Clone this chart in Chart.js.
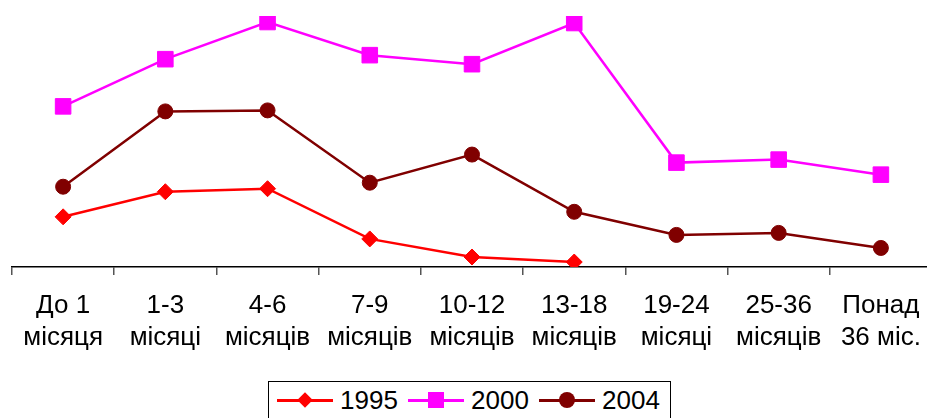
<!DOCTYPE html>
<html lang="uk">
<head>
  <meta charset="UTF-8">
  <title>Тривалість безробіття</title>
  <script src="https://cdn.jsdelivr.net/npm/chart.js@4"></script>
  <style>
    html, body { margin: 0; padding: 0; background: #fff; overflow: hidden; }
    #wrap { position: relative; width: 927px; height: 418px; overflow: hidden; }
    #chart { position: absolute; left: 0; top: 0; }
    #legend {
      position: absolute; left: 268px; top: 381px; width: 403px; height: 44px;
      border: 1px solid #000; box-sizing: border-box;
      display: flex; align-items: center; padding-left: 8px;
      font-family: Arial, "Liberation Sans", sans-serif; font-size: 26px; color: #000;
    }
    .item { display: flex; align-items: center; width: 132px; margin-top: -6px; }
    .sym { position: relative; width: 56px; height: 20px; margin-right: 7px; flex: none; }
    .sym .ln { position: absolute; left: 0; right: 0; top: 9px; height: 2.5px; }
    .sym .mk { position: absolute; left: 50%; top: 50%; }
  </style>
</head>
<body>
<div id="wrap">
  <canvas id="chart" width="944" height="380"></canvas>
  <div id="legend"></div>
</div>

<script>
// categories (two-line labels)
const categories = [
  ['До 1', 'місяця'],
  ['1-3', 'місяці'],
  ['4-6', 'місяців'],
  ['7-9', 'місяців'],
  ['10-12', 'місяців'],
  ['13-18', 'місяців'],
  ['19-24', 'місяці'],
  ['25-36', 'місяців'],
  ['Понад', '36 міс.']
];

// values (no y scale shown, relative units)
const values1995 = [5.0, 7.5, 7.8, 2.8, 1.0, 0.5, null, null, null];
const values2000 = [16.0, 20.7, 24.4, 21.1, 20.2, 24.3, 10.4, 10.7, 9.2];
const values2004 = [8.0, 15.5, 15.6, 8.4, 11.2, 5.5, 3.2, 3.4, 1.9];

const seriesNames = ['1995', '2000', '2004'];
const seriesColors = ['#ff0000', '#ff00ff', '#800000'];

Chart.defaults.font.family = 'Arial, "Liberation Sans", sans-serif';
Chart.defaults.color = '#000';

function ds(label, data, color, style, radius) {
  return {
    label: label,
    data: data,
    borderColor: color,
    backgroundColor: color,
    borderWidth: 2.5,
    pointStyle: style,
    pointRadius: radius,
    pointHoverRadius: radius,
    pointBorderWidth: 1,
    tension: 0,
    spanGaps: false
  };
}

const ctx = document.getElementById('chart').getContext('2d');
new Chart(ctx, {
  type: 'line',
  data: {
    labels: categories,
    datasets: [
      ds(seriesNames[0], values1995, seriesColors[0], 'rectRot', 8),
      ds(seriesNames[1], values2000, seriesColors[1], 'rect', 11),
      ds(seriesNames[2], values2004, seriesColors[2], 'circle', 7.5)
    ]
  },
  options: {
    responsive: false,
    animation: false,
    devicePixelRatio: 1,
    layout: { padding: { left: 9, right: 0, top: 16, bottom: 11 } },
    scales: {
      x: {
        offset: true,
        grid: {
          offset: true,
          drawOnChartArea: false,
          drawTicks: true,
          tickLength: 8,
          color: '#555',
          lineWidth: 1.5
        },
        border: { display: true, color: '#000', width: 1.5 },
        ticks: {
          font: { size: 26, lineHeight: 1.23 },
          color: '#000',
          padding: 15,
          maxRotation: 0,
          autoSkip: false
        }
      },
      y: {
        display: false,
        min: 0,
        max: 25
      }
    },
    plugins: {
      legend: { display: false },
      tooltip: { enabled: false }
    }
  }
});

// legend as in the original: line with marker, then year
const legend = document.getElementById('legend');
const markers = [
  'width:11px;height:11px;transform:translate(-50%,-50%) rotate(45deg);',
  'width:16px;height:16px;transform:translate(-50%,-50%);',
  'width:16px;height:16px;border-radius:50%;transform:translate(-50%,-50%);'
];
seriesNames.forEach((name, i) => {
  const item = document.createElement('div');
  item.className = 'item';
  item.innerHTML =
    '<div class="sym"><div class="ln" style="background:' + seriesColors[i] + '"></div>' +
    '<div class="mk" style="background:' + seriesColors[i] + ';' + markers[i] + '"></div></div>' +
    '<span>' + name + '</span>';
  legend.appendChild(item);
});
</script>
</body>
</html>
